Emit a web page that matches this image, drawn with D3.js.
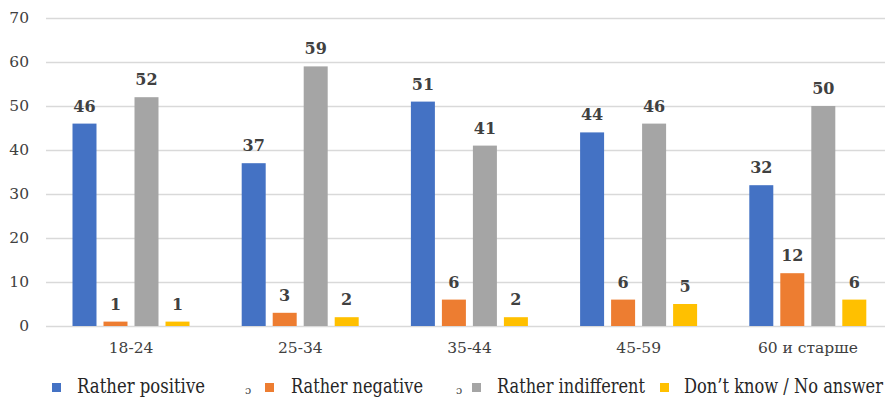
<!DOCTYPE html>
<html>
<head>
<meta charset="utf-8">
<script src="https://cdn.jsdelivr.net/npm/d3@7"></script>
<style>
  html, body { margin: 0; padding: 0; background: #fff; }
  svg { display: block; }
  svg text { font-family: "DejaVu Serif", serif; }
</style>
</head>
<body>
<svg id="chart" width="885" height="400"></svg>
<script>
// Age groups and answer shares (%)
const categories = ["18-24", "25-34", "35-44", "45-59", "60 и старше"];
const seriesNames = ["Rather positive", "Rather negative", "Rather indifferent", "Don’t know / No answer"];
const ratherPositive = [46, 37, 51, 44, 32];
const ratherNegative = [1, 3, 6, 6, 12];
const ratherIndifferent = [52, 59, 41, 46, 50];
const dontKnow = [1, 2, 2, 5, 6];
const yTicks = [0, 10, 20, 30, 40, 50, 60, 70];
const colors = ["#4472C4", "#ED7D31", "#A5A5A5", "#FFC000"];

const seriesValues = [ratherPositive, ratherNegative, ratherIndifferent, dontKnow];

const svg = d3.select("#chart");
const textColor = "#404040";

const x0 = d3.scaleBand().domain(categories).range([46.5, 892.5]).paddingInner(0).paddingOuter(0);
const y = d3.scaleLinear().domain([0, 70]).range([326, 18]);
const x1 = d3.scaleBand().domain(d3.range(seriesNames.length))
  .range([26, 143]).paddingInner(0.226).paddingOuter(0);

// horizontal gridlines
svg.append("g").selectAll("line").data(yTicks).join("line")
  .attr("x1", 46).attr("x2", 885)
  .attr("y1", d => y(d) + 0.5).attr("y2", d => y(d) + 0.5)
  .attr("stroke", "#d9d9d9").attr("stroke-width", 1.6);

// y axis labels
const yAxis = d3.axisLeft(y).tickValues(yTicks).tickSize(0).tickPadding(0);
const yg = svg.append("g").attr("transform", "translate(29,0)").call(yAxis);
yg.attr("font-family", null);
yg.select(".domain").remove();
yg.selectAll("text").style("font-size", "15.5px").attr("fill", textColor);

// x axis labels
const xAxis = d3.axisBottom(x0).tickSize(0).tickPadding(0);
const xg = svg.append("g").attr("transform", "translate(0,342)").call(xAxis);
xg.attr("font-family", null);
xg.select(".domain").remove();
xg.selectAll("text").style("font-size", "15.5px").attr("fill", textColor);

// bars and value labels
const groups = svg.append("g").selectAll("g").data(categories).join("g")
  .attr("transform", d => `translate(${x0(d)},0)`);

groups.each(function(cat, i) {
  const g = d3.select(this);
  const data = seriesValues.map((vals, s) => ({ s, v: vals[i] }));
  g.selectAll("rect").data(data).join("rect")
    .attr("x", d => x1(d.s))
    .attr("width", x1.bandwidth())
    .attr("y", d => y(d.v))
    .attr("height", d => y(0) - y(d.v))
    .attr("fill", d => colors[d.s]);
  g.selectAll("text").data(data).join("text")
    .attr("x", d => x1(d.s) + x1.bandwidth() / 2)
    .attr("y", d => y(d.v) - 12)
    .attr("text-anchor", "middle")
    .style("font-weight", "bold")
    .style("font-size", "16px")
    .attr("fill", textColor)
    .text(d => d.v);
});

// legend: each label is narrowed horizontally to a condensed serif width
const legendItems = [
  { sq: 52, tx: 77, w: 128, mark: null },
  { sq: 265, tx: 291, w: 132, mark: 245 },
  { sq: 472, tx: 497, w: 148, mark: 456 },
  { sq: 660, tx: 684, w: 199, mark: null }
];
const legend = svg.append("g");
legendItems.forEach((it, s) => {
  legend.append("rect")
    .attr("x", it.sq).attr("y", 383)
    .attr("width", 9).attr("height", 9)
    .attr("fill", colors[s]);
  if (it.mark !== null) {
    legend.append("text")
      .attr("x", it.mark).attr("y", 394)
      .style("font-size", "11px")
      .attr("fill", textColor).text("ɔ");
  }
  const t = legend.append("text")
    .attr("x", 0).attr("y", 0)
    .style("font-size", "20px")
    .attr("fill", "#262626")
    .text(seriesNames[s]);
  const natural = t.node().getComputedTextLength();
  t.attr("transform", `translate(${it.tx},393) scale(${it.w / natural},1)`);
});
</script>
</body>
</html>
